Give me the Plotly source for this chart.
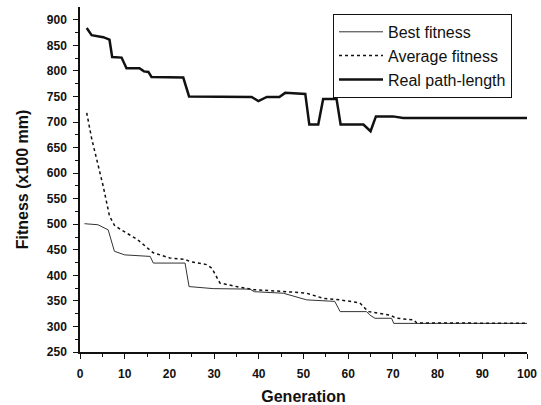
import plotly.graph_objects as go

# Real path-length (thick solid)
real_x = [1.5, 2.0, 2.6, 5.2, 6.6, 7.2, 9.3, 10.4, 13.3, 14.3, 15.3, 16.0, 23.1, 24.4,
          38.4, 39.9, 41.8, 44.6, 45.9, 50.4, 51.3, 53.3, 54.4, 57.4, 58.3, 63.4,
          65.0, 66.2, 70.0, 72.3, 100]
real_y = [884, 878, 870, 866, 861, 827, 826, 805, 805, 799, 798, 788, 787, 750,
          749, 741, 749, 749, 757, 755, 695, 695, 745, 745, 695, 695,
          682, 711, 711, 708, 708]

# Best fitness (thin solid)
best_x = [1, 4.0, 6.3, 7.7, 10.0, 15.7, 16.4, 23.5, 24.4, 29.8, 38.0, 39.0, 45.5,
          48.1, 50.7, 57.0, 58.2, 64.1, 64.9, 66.0, 69.7, 70.2, 100]
best_y = [501, 499, 489, 447, 440, 437, 424, 424, 378, 374, 373, 368, 365,
          359, 352, 349, 329, 329, 322, 316, 316, 306, 306]

# Average fitness (dotted)
avg_x = [1.5, 2.6, 5.2, 6.6, 7.7, 9.0, 12.7, 16.4, 20.1, 23.5, 24.6, 28.3, 29.5,
         31.3, 35.0, 38.8, 46.2, 50.7, 54.4, 58.2, 62.6, 64.5, 69.4, 70.8, 74.6,
         75.3, 100]
avg_y = [718, 668, 574, 516, 498, 490, 471, 444, 434, 431, 427, 421, 414,
         385, 378, 372, 368, 365, 355, 352, 346, 329, 322, 316, 313,
         307, 306]

x_ticks = [0, 10, 20, 30, 40, 50, 60, 70, 80, 90, 100]
y_ticks = [250, 300, 350, 400, 450, 500, 550, 600, 650, 700, 750, 800, 850, 900]

fig = go.Figure()
fig.add_trace(go.Scatter(x=best_x, y=best_y, mode="lines", name="Best fitness",
                         line=dict(color="#333333", width=1)))
fig.add_trace(go.Scatter(x=avg_x, y=avg_y, mode="lines", name="Average fitness",
                         line=dict(color="#111111", width=1.5, dash="3px,3px")))
fig.add_trace(go.Scatter(x=real_x, y=real_y, mode="lines", name="Real path-length",
                         line=dict(color="#111111", width=2.5)))

axis_font = dict(family="Arial", size=12, color="#111111", weight="bold")
fig.update_layout(
    width=541, height=405,
    margin=dict(l=80, r=14, t=7, b=53),
    paper_bgcolor="white", plot_bgcolor="white",
    font=dict(family="Arial", color="#111111"),
    showlegend=True,
    legend=dict(x=0.566, y=0.98, xanchor="left", yanchor="top",
                bordercolor="#111111", borderwidth=1, bgcolor="white",
                font=dict(family="Arial", size=16, color="#111111"),
                tracegroupgap=0, itemwidth=44),
    xaxis=dict(range=[0, 100], tickvals=x_ticks, showgrid=False, zeroline=False,
               automargin=False,
               showline=True, linecolor="#111111", linewidth=1.5,
               ticks="outside", ticklen=5, tickcolor="#111111", tickwidth=1.2,
               ticklabelstandoff=5,
               minor=dict(dtick=5, ticks="outside", ticklen=3, tickcolor="#111111"),
               tickfont=axis_font,
               title=dict(text="<b>Generation</b>", font=dict(family="Arial", size=16),
                          standoff=12)),
    yaxis=dict(range=[250, 925], tickvals=y_ticks, showgrid=False, zeroline=False,
               automargin=False,
               showline=True, linecolor="#111111", linewidth=1.5,
               ticks="outside", ticklen=5, tickcolor="#111111", tickwidth=1.2,
               ticklabelstandoff=4,
               minor=dict(tickvals=[v + 25 for v in y_ticks[:-1]], ticks="outside",
                          ticklen=3, tickcolor="#111111"),
               tickfont=axis_font,
               title=dict(text="<b>Fitness (x100 mm)</b>", font=dict(family="Arial", size=16),
                          standoff=14)),
)

fig.write_html("out.html")
